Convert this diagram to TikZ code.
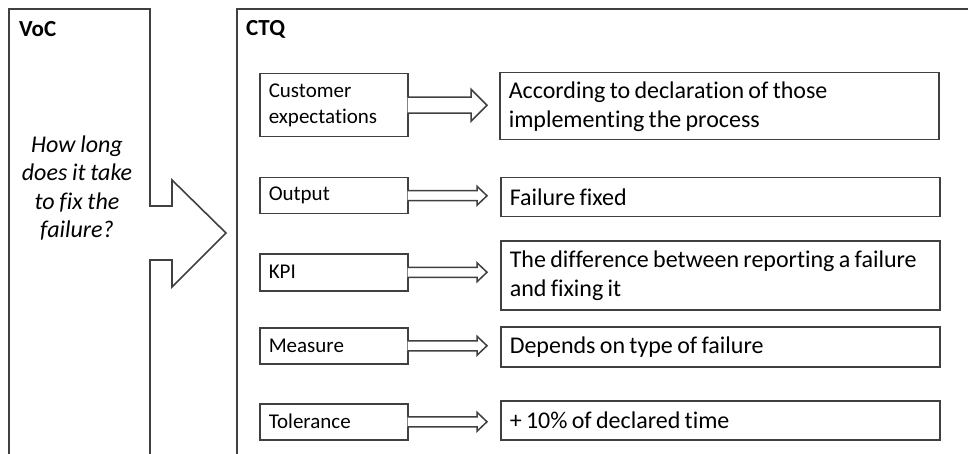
\documentclass[tikz,border=0pt]{standalone}
\usepackage{fontspec}
\setmainfont{Carlito}[Ligatures={NoCommon}]
\usepackage{tikz}
\usetikzlibrary{calc}
\usetikzlibrary{positioning}

\definecolor{linegray}{RGB}{64,64,64}

\tikzset{
  title/.style={anchor=west, inner sep=0pt, font=\fontsize{23}{27}\selectfont\bfseries},
  lbox/.style={draw=linegray, line width=1.5pt, anchor=north west, inner xsep=9pt, inner ysep=0pt,
    text width=130pt, align=left, font=\fontsize{21}{26}\selectfont},
  rbox/.style={draw=linegray, line width=1.5pt, anchor=north west, inner xsep=9pt, inner ysep=0pt,
    text width=421pt, align=left, font=\fontsize{24}{29}\selectfont,
    execute at begin node={\spaceskip=0.18em plus 0.05em minus 0.03em\relax\hyphenpenalty=10000\relax}},
  ctqarr/.style={draw=linegray, line width=1.5pt, fill=white, line join=miter},
  frame/.style={draw=linegray, line width=1.6pt, line join=miter}
}

\begin{document}
\begin{tikzpicture}[x=1pt, y=-1pt]
    \useasboundingbox (0,0) rectangle (968,454);
    \clip (0,0) rectangle (968,454);

    % VoC column with its arrow
    \draw[frame] (9,470) -- (9,9) -- (150,9) -- (150,206) -- (172,206) -- (172,180)
        -- (226,233) -- (172,287) -- (172,260) -- (150,260) -- (150,470);
    % CTQ column
    \draw[frame] (237,470) -- (237,9) -- (980,9);

    \node[title] (voc) at (19,29) {VoC};
    \node[title] (ctq) at (246,29) {CTQ};
    \node[align=center, font=\fontsize{24}{28.5}\selectfont\itshape,
        execute at begin node={\spaceskip=0.2em\relax}] (question) at (77,188)
        {How long\\does it take\\to fix the\\failure?};

    \node[lbox, minimum height=63pt] (cust) at (259,73) {Customer\\expectations};
    \node[lbox, minimum height=36pt] (out) at (259,177) {Output};
    \node[lbox, minimum height=37pt] (kpi) at (259,253) {KPI};
    \node[lbox, minimum height=36pt] (mea) at (259,327) {Measure};
    \node[lbox, minimum height=36pt] (tol) at (259,403) {Tolerance};

    \node[rbox, minimum height=67pt] (custR) at (499,72) {According to declaration of those\\implementing the process};
    \node[rbox, minimum height=39pt] (outR) at (500,177) {Failure fixed};
    \node[rbox, minimum height=69pt] (kpiR) at (500,240) {The difference between reporting a failure\\and fixing it};
    \node[rbox, minimum height=40pt] (meaR) at (500,326) {Depends on type of failure};
    \node[rbox, minimum height=39pt] (tolR) at (500,400) {+ 10\% of declared time};

    % block arrows
    \coordinate (tip-cust) at ([xshift=-12pt]cust.east -| custR.west);
    \draw[ctqarr] ([shift={(-0.8,-8)}]cust.east) -- ([shift={(-16,-8)}]tip-cust) -- ([shift={(-16,-16)}]tip-cust)
        -- (tip-cust) -- ([shift={(-16,16)}]tip-cust) -- ([shift={(-16,8)}]tip-cust) -- ([shift={(-0.8,8)}]cust.east);
    \foreach \a/\b in {out/outR, kpi/kpiR, mea/meaR, tol/tolR} {
        \coordinate (tip-\a) at ([xshift=-13pt]\a.east -| \b.west);
        \draw[ctqarr] ([shift={(-0.8,-5)}]\a.east) -- ([shift={(-10,-5)}]tip-\a) -- ([shift={(-10,-9.5)}]tip-\a)
            -- (tip-\a) -- ([shift={(-10,9.5)}]tip-\a) -- ([shift={(-10,5)}]tip-\a) -- ([shift={(-0.8,5)}]\a.east);
    }
\end{tikzpicture}
\end{document}
